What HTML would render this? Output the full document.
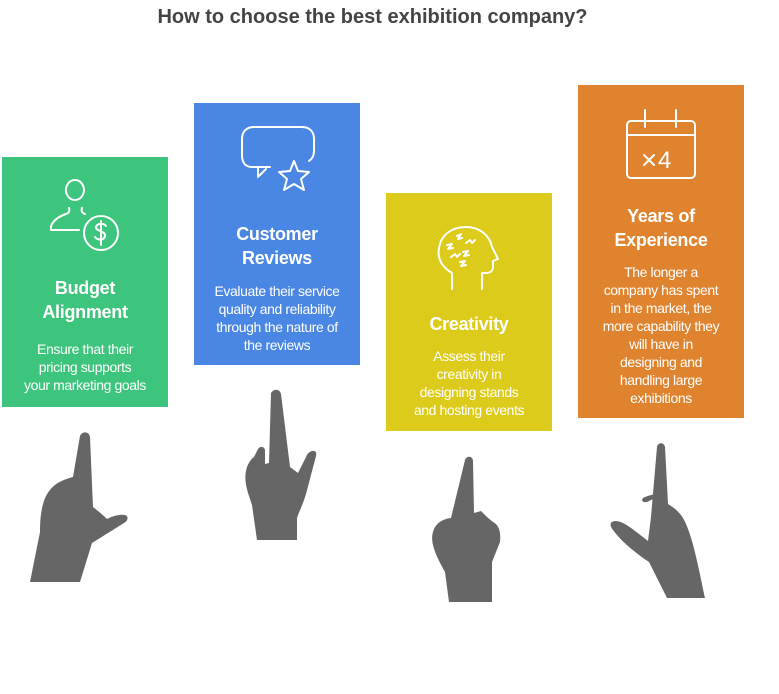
<!DOCTYPE html>
<html><head><meta charset="utf-8"><style>
body{margin:0;width:779px;height:694px;background:#fff;position:relative;overflow:hidden;font-family:"Liberation Sans",Arial,sans-serif}
.t{position:absolute;left:0;width:745px;top:6px;text-align:center;font-size:20px;font-weight:bold;color:#444}
.b{position:absolute;width:166px;color:#fff;text-align:center}
.b h3{position:absolute;left:0;width:100%;margin:0;font-size:18px;line-height:24px;font-weight:bold;letter-spacing:-0.3px}
.b p{position:absolute;left:0;width:100%;margin:0;font-size:14px;line-height:18px;letter-spacing:-0.4px}
svg{position:absolute;left:0;top:0}
</style></head><body>
<div class="t">How to choose the best exhibition company?</div>
<div class="b" style="left:2px;top:157px;height:250px;background:#3dc47d">
<h3 style="top:119px">Budget<br>Alignment</h3>
<p style="top:183px">Ensure that their<br>pricing supports<br>your marketing goals</p></div>
<div class="b" style="left:194px;top:103px;height:262px;background:#4a86e3">
<h3 style="top:119px">Customer<br>Reviews</h3>
<p style="top:179px">Evaluate their service<br>quality and reliability<br>through the nature of<br>the reviews</p></div>
<div class="b" style="left:386px;top:193px;height:238px;background:#dccb1b">
<h3 style="top:119px">Creativity</h3>
<p style="top:154px">Assess their<br>creativity in<br>designing stands<br>and hosting events</p></div>
<div class="b" style="left:578px;top:85px;height:333px;background:#e0832f">
<h3 style="top:119px">Years of<br>Experience</h3>
<p style="top:178px">The longer a<br>company has spent<br>in the market, the<br>more capability they<br>will have in<br>designing and<br>handling large<br>exhibitions</p></div>
<svg width="779" height="694" fill="none" stroke="#fff" stroke-width="2" stroke-linecap="round" stroke-linejoin="round">
<path d="M75 200a9 10 0 1 0 -0.1 0M66 214c-6 2-12 5-15 12v4h28"/><path d="M69 208c1 3 0 5-3 6M82 208c-1 3 0 5 3 6"/>
<circle cx="101" cy="233" r="17"/><path d="M106 226c-2-3-9-3-10 1s10 4 9 9-8 4-10 1M101 221v24"/>
<path d="M252 127h50c8 0 12 5 12 12v12c0 5-2 8-5 10M270 167h-18c-7 0-10-5-10-12v-16c0-7 4-12 12-12M258 167v10l8-8"/>
<path d="M294 161l4 10 11 1-8 7 3 11-10-6-10 6 3-11-8-7 11-1z"/>
<path d="M452 289v-16c-10-6-15-14-13-25 2-14 14-21 27-21 14 0 24 9 26 20l6 12-5 2v6c0 4-3 6-7 6h-4v16"/>
<path d="M447 245l5-1-4 5 5-1M457 236l4-2-3 5 4-1M466 243l4-3 2 3 3-3M451 257l4-3 2 3 3-3M463 252l5-1-4 5 5-1M460 262l5-1-4 5 5-1"/>
<rect x="627" y="121" width="68" height="57" rx="4"/><path d="M627 135h68M645 110v17M676 110v17M644 155l10 10M654 155l-10 10"/>
<text x="658" y="168" fill="#fff" stroke="none" font-family="Liberation Sans" font-size="24">4</text>
</svg>
<svg width="779" height="694" fill="#666">
<path d="M80 436c2-5 9-5 10 1l3 70c5 4 10 8 14 12 6-3 12-5 18-4 4 1 3 6-1 8l-32 20-12 39H30l10-50c0-20 3-34 10-42 6-8 16-11 23-13z"/>
<path d="M271 393c3-5 9-4 10 1l9 73 8 6 8-16c3-8 12-8 10-1l-10 38c-3 10-7 18-9 24v22h-40l-5-35c-5-15-9-25-5-38 2-5 5-9 7-10l4-8c2-3 6-3 7 1v14l4-1z"/>
<path d="M465 460c2-5 8-4 8 1l1 52 7-2 6 6 6 5c6 3 8 10 7 20l-8 20v40h-43l-4-30c-10-18-15-30-12-40 2-8 9-13 18-14z"/>
<path d="M657 447c1-5 7-5 8 0l3 57c6 4 13 8 18 20 6 14 10 30 19 74h-38l-18-36c-15-10-29-22-36-32-4-5-3-9 3-9 8 0 20 11 32 20l3-24zM645 497c8-3 13-4 12 0l-10 5c-5 1-7-3-2-5z"/>
</svg>
</body></html>
